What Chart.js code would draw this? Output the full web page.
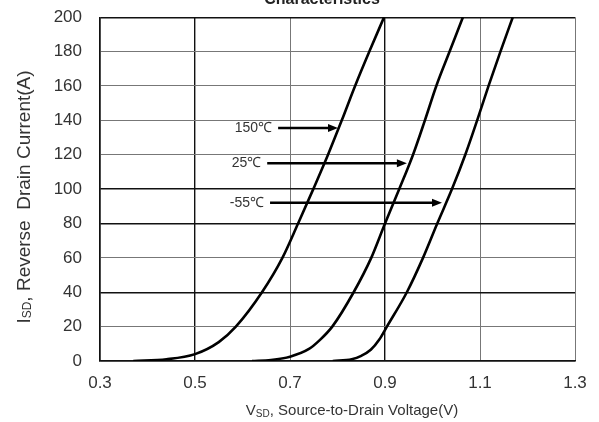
<!DOCTYPE html>
<html>
<head>
<meta charset="utf-8">
<script src="https://cdn.jsdelivr.net/npm/chart.js@4/dist/chart.umd.min.js"></script>
<style>
  body { margin: 0; background: #fff; }
  #wrap { width: 599px; height: 422px; position: relative; overflow: hidden; }
  /* canvas is a bit taller and pulled up so the plot top sits at y=17 */
  #inner { position: absolute; left: 0; top: -11px; width: 599px; height: 433px; }
</style>
</head>
<body>
<div id="wrap"><div id="inner"><canvas id="chart"></canvas></div></div>
<script>
// curve data (V, A)
const v150 = [0.37, 0.44, 0.50, 0.55, 0.586, 0.641, 0.684, 0.717, 0.749, 0.780, 0.809, 0.837, 0.867, 0.898];
const i150 = [0, 1, 4, 11, 20, 40, 60, 80, 100, 120, 140, 160, 180, 200];
const v25 = [0.62, 0.66, 0.70, 0.74, 0.762, 0.789, 0.834, 0.871, 0.900, 0.930, 0.959, 0.984, 1.008, 1.036, 1.064];
const i25 = [0, 0.6, 2.5, 7, 12, 20, 40, 60, 80, 100, 120, 140, 160, 180, 200];
const vm55 = [0.79, 0.83, 0.85, 0.87, 0.888, 0.904, 0.946, 0.980, 1.010, 1.041, 1.069, 1.094, 1.118, 1.143, 1.169];
const im55 = [0, 1, 3, 6.5, 12.5, 20, 40, 60, 80, 100, 120, 140, 160, 180, 200];

const xTicks = [0.3, 0.5, 0.7, 0.9, 1.1, 1.3];
const yTicks = [0, 20, 40, 60, 80, 100, 120, 140, 160, 180, 200];

// temperature labels + arrows
const tempLabels = ['150\u2103', '25\u2103', '-55\u2103'];
const arrowY = [135.5, 115, 92];
const arrowStart = [0.675, 0.652, 0.658];
const arrowEnd = [0.801, 0.946, 1.02];

// darker grid lines in the original
const darkX = [0.5, 0.9];
const darkY = [0, 40, 80, 100, 200];

const FONT = '"Liberation Sans", Arial, sans-serif';
const OFF = 11; // canvas shift, see css

function pts(xs, ys) {
  return xs.map((x, i) => ({ x: x, y: ys[i] }));
}

const curve = (label, data) => ({
  label: label,
  data: data,
  borderColor: '#000',
  borderWidth: 2.6,
  pointRadius: 0,
  fill: false,
  cubicInterpolationMode: 'monotone',
});

// draws subscripted text centred on (cx, cy)
function drawParts(ctx, parts, cx, cy) {
  let w = 0;
  parts.forEach(p => { ctx.font = p[1] + 'px ' + FONT; w += ctx.measureText(p[0]).width; });
  let px = cx - w / 2;
  ctx.textAlign = 'left';
  ctx.textBaseline = 'middle';
  parts.forEach(p => {
    ctx.font = p[1] + 'px ' + FONT;
    ctx.fillText(p[0], px, cy + p[2]);
    px += ctx.measureText(p[0]).width;
  });
}

const extras = {
  id: 'extras',
  afterDatasetsDraw(chart) {
    const { ctx, scales: { x, y } } = chart;
    ctx.save();
    ctx.strokeStyle = '#000';
    ctx.lineWidth = 2.5;
    tempLabels.forEach((t, i) => {
      const x0 = x.getPixelForValue(arrowStart[i]);
      const x1 = x.getPixelForValue(arrowEnd[i]);
      const yy = y.getPixelForValue(arrowY[i]);
      ctx.fillStyle = '#000';
      ctx.beginPath();
      ctx.moveTo(x0, yy);
      ctx.lineTo(x1 - 8, yy);
      ctx.stroke();
      ctx.beginPath();
      ctx.moveTo(x1, yy);
      ctx.lineTo(x1 - 10, yy - 4);
      ctx.lineTo(x1 - 10, yy + 4);
      ctx.closePath();
      ctx.fill();
      ctx.fillStyle = '#333';
      ctx.font = '14px ' + FONT;
      ctx.textAlign = 'right';
      ctx.textBaseline = 'middle';
      ctx.fillText(t, x0 - 6, yy);
    });
    ctx.restore();
  },
  afterDraw(chart) {
    const { ctx } = chart;
    ctx.save();
    // title, cut off by the top edge
    ctx.fillStyle = '#222';
    ctx.font = 'bold 16px ' + FONT;
    ctx.textAlign = 'center';
    ctx.textBaseline = 'alphabetic';
    ctx.fillText('Characteristics', 322, 4 + OFF);

    ctx.fillStyle = '#333';
    drawParts(ctx, [['V', 15, 0], ['SD', 10, 3], [', Source-to-Drain Voltage(V)', 15, 0]], 352, 411 + OFF);

    ctx.translate(25, 197 + OFF);
    ctx.rotate(-Math.PI / 2);
    drawParts(ctx, [['I', 19, 0], ['SD', 12, 3], [', Reverse  Drain Current(A)', 19, 0]], 0, 0);
    ctx.restore();
  }
};

new Chart(document.getElementById('chart'), {
  type: 'line',
  data: {
    datasets: [
      curve('150\u2103', pts(v150, i150)),
      curve('25\u2103', pts(v25, i25)),
      curve('-55\u2103', pts(vm55, im55)),
    ]
  },
  options: {
    responsive: true,
    maintainAspectRatio: false,
    animation: false,
    layout: { padding: { top: 7, right: 24, left: 0, bottom: 0 } },
    plugins: {
      legend: { display: false },
      tooltip: { enabled: false },
    },
    scales: {
      x: {
        type: 'linear',
        min: 0.3,
        max: 1.3,
        afterBuildTicks: (s) => { s.ticks = xTicks.map(v => ({ value: v })); },
        afterFit: (s) => { s.height = 61; },
        ticks: {
          color: '#333',
          padding: 12,
          font: { family: FONT, size: 17 },
          callback: (v) => Number(v).toFixed(1),
        },
        grid: {
          drawTicks: false,
          color: (c) => darkX.some(d => Math.abs(d - c.tick.value) < 1e-6) ? '#111' : '#777',
          lineWidth: (c) => darkX.some(d => Math.abs(d - c.tick.value) < 1e-6) ? 1.4 : 1,
        },
        border: { color: '#111', width: 1.4 },
      },
      y: {
        min: 0,
        max: 200,
        afterBuildTicks: (s) => { s.ticks = yTicks.map(v => ({ value: v })); },
        afterFit: (s) => { s.width = 100; },
        ticks: {
          color: '#333',
          padding: 18,
          font: { family: FONT, size: 17 },
        },
        grid: {
          drawTicks: false,
          color: (c) => darkY.includes(c.tick.value) ? '#111' : '#777',
          lineWidth: (c) => darkY.includes(c.tick.value) ? 1.4 : 1,
        },
        border: { color: '#111', width: 1.4 },
      },
    },
  },
  plugins: [extras],
});
</script>
</body>
</html>
